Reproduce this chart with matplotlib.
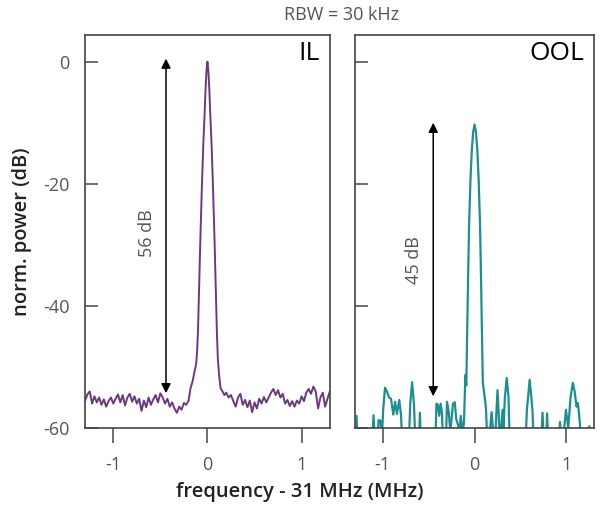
import numpy as np
import matplotlib.pyplot as plt

# IL spectrum: noise floor left of peak, peak, noise floor right of peak
il_noise_left = [-55.5, -54.5, -54.0, -56.0, -54.8, -55.8, -55.0, -56.2, -55.3, -56.5,
                 -55.6, -55.0, -56.0, -55.2, -54.5, -55.8, -54.6, -56.3, -55.0, -54.4,
                 -55.7, -54.8, -56.0, -55.2, -57.2, -55.5, -56.6, -55.0, -56.2, -55.3,
                 -54.6, -55.8, -54.3, -55.0, -56.0, -55.2, -56.5, -55.8, -56.8, -57.5,
                 -56.5, -57.0, -55.9, -56.2, -55.5]
il_peak_freq = [-0.18, -0.16, -0.14, -0.12, -0.11, -0.10, -0.09, -0.075, -0.06, -0.045,
                -0.03, -0.02, -0.01, 0.0, 0.01, 0.02, 0.03, 0.045, 0.06, 0.075,
                0.09, 0.10, 0.11, 0.125, 0.14, 0.16, 0.18, 0.20]
il_peak_power = [-53.5, -52.5, -51.0, -49.5, -47.5, -44.0, -38.0, -29.0, -21.0, -14.0,
                 -8.5, -4.5, -1.5, 0.0, -1.5, -4.5, -8.5, -14.0, -21.0, -29.0,
                 -38.0, -44.0, -48.5, -51.5, -53.5, -54.0, -54.6, -54.2]
il_noise_right = [-55.0, -54.6, -55.6, -56.5, -55.0, -54.4, -56.2, -55.4, -56.6, -55.5,
                  -57.4, -55.8, -56.8, -55.2, -56.0, -54.9, -55.8, -55.0, -54.2, -53.6,
                  -54.6, -53.8, -55.0, -54.4, -56.0, -55.4, -56.4, -55.6, -56.5, -55.5,
                  -56.0, -54.8, -55.6, -54.2, -53.6, -54.4, -53.2, -54.0, -56.8, -55.0,
                  -54.2, -56.5, -55.2, -54.0]

# OOL spectrum (values below -60 fall off the axis)
ool_freq = [-1.30, -1.285, -1.27, -1.12, -1.10, -1.08, -1.06, -1.045, -1.025, -1.01,
            -0.995, -0.975, -0.955, -0.93, -0.91, -0.885, -0.865, -0.845, -0.82, -0.80,
            -0.785, -0.72, -0.70, -0.68, -0.66, -0.64, -0.61, -0.595, -0.58, -0.43,
            -0.415, -0.40, -0.385, -0.37, -0.355, -0.34, -0.315, -0.30, -0.28, -0.265,
            -0.25, -0.235, -0.215, -0.20, -0.18, -0.165, -0.15, -0.13, -0.115, -0.10,
            -0.09, -0.08, -0.07, -0.06, -0.045, -0.03, -0.015, 0.0, 0.015, 0.03,
            0.045, 0.06, 0.07, 0.08, 0.09, 0.10, 0.115, 0.125, 0.14, 0.15,
            0.17, 0.185, 0.20, 0.21, 0.23, 0.25, 0.27, 0.28, 0.29, 0.305,
            0.315, 0.33, 0.35, 0.37, 0.385, 0.55, 0.57, 0.60, 0.63, 0.65,
            0.72, 0.74, 0.76, 0.775, 0.79, 0.805, 0.91, 0.93, 0.95, 0.97,
            0.995, 1.02, 1.045, 1.07, 1.09, 1.11, 1.125, 1.14, 1.17, 1.23,
            1.25, 1.27, 1.30]
ool_power = [-64, -58.0, -64, -64, -57.9, -64, -62, -58.7, -58.8, -62,
             -57, -53.4, -54.0, -55.0, -55.2, -57.8, -55.7, -57.7, -55.4, -58,
             -64, -64, -56, -52.5, -56, -64, -64, -57.5, -64, -64,
             -56.0, -56.2, -58, -56.0, -57.5, -64, -64, -55.7, -57.5, -60.5,
             -58.5, -56, -55.8, -58.5, -59.5, -60.5, -58, -61, -59, -51.3,
             -53, -44, -35, -27, -19.5, -14.5, -11.5, -10.3, -11.5, -14.5,
             -19.5, -27, -35, -44, -52.6, -53.8, -55.5, -57, -63, -64,
             -60, -57.4, -60, -64, -60, -53.8, -60, -64, -60, -57,
             -60, -55, -51.8, -55, -64, -64, -57, -52.1, -57, -64,
             -64, -57.5, -64, -64, -57.6, -64, -64, -59, -64, -61,
             -57, -60, -55, -52.6, -54, -56.5, -55.9, -58, -64, -64,
             -59.7, -64, -64]

il_freq = np.concatenate([np.linspace(-1.3, -0.2, len(il_noise_left)), il_peak_freq,
                          np.linspace(0.225, 1.3, len(il_noise_right))])
il_power = np.concatenate([il_noise_left, il_peak_power, il_noise_right])

plt.rcParams['font.family'] = ['Open Sans', 'DejaVu Sans']
plt.rcParams['axes.unicode_minus'] = False

fig = plt.figure(figsize=(6.03, 5.12), dpi=100)
ax1 = fig.add_axes([0.141, 0.164, 0.406, 0.768])
ax2 = fig.add_axes([0.589, 0.164, 0.396, 0.768])

ax1.plot(il_freq, il_power, color='#6b3a7e', lw=1.4)
ax2.plot(ool_freq, ool_power, color='#1c9090', lw=1.6)

for ax in (ax1, ax2):
    ax.set_xlim(-1.3, 1.3)
    ax.set_ylim(-60, 4.4)
    ax.set_xticks([-1, 0, 1])
    ax.set_yticks([0, -20, -40, -60])
    for s in ax.spines.values():
        s.set_color('#444444')
        s.set_linewidth(1.2)
    ax.tick_params(axis='x', direction='out', length=11, width=1.2, color='#555555',
                   labelsize=13, labelcolor='#555555', pad=9)
    ax.tick_params(axis='y', direction='in', length=9, width=1.2, color='#555555',
                   labelsize=13, labelcolor='#555555', pad=11)
ax2.tick_params(axis='y', labelleft=False)

# dynamic-range arrows
arrow = dict(arrowstyle='<|-|>', color='black', lw=1.1, mutation_scale=14,
             shrinkA=0, shrinkB=0)
ax1.annotate('', xy=(-0.44, 0.5), xytext=(-0.44, -54.3), arrowprops=arrow)
ax1.text(-0.64, -28.0, '56 dB', rotation=90, ha='center', va='center',
         fontsize=13, color='#555555')
ax2.annotate('', xy=(-0.45, -10.0), xytext=(-0.45, -54.8), arrowprops=arrow)
ax2.text(-0.66, -32.5, '45 dB', rotation=90, ha='center', va='center',
         fontsize=13, color='#555555')

ax1.text(0.96, 0.985, 'IL', transform=ax1.transAxes, ha='right', va='top', fontsize=19)
ax2.text(0.96, 0.985, 'OOL', transform=ax2.transAxes, ha='right', va='top', fontsize=19)

fig.text(342 / 603, 1 - 15 / 512, 'RBW = 30 kHz', ha='center', va='center',
         fontsize=13, color='#555555')
fig.text(300 / 603, 1 - 492 / 512, 'frequency - 31 MHz (MHz)', ha='center', va='center',
         fontsize=14.5, color='#222222', fontweight='semibold')
fig.text(22 / 603, 1 - 232 / 512, 'norm. power (dB)', ha='center', va='center',
         rotation=90, fontsize=14.5, color='#222222', fontweight='semibold')

fig.savefig('out.png', dpi=100)
